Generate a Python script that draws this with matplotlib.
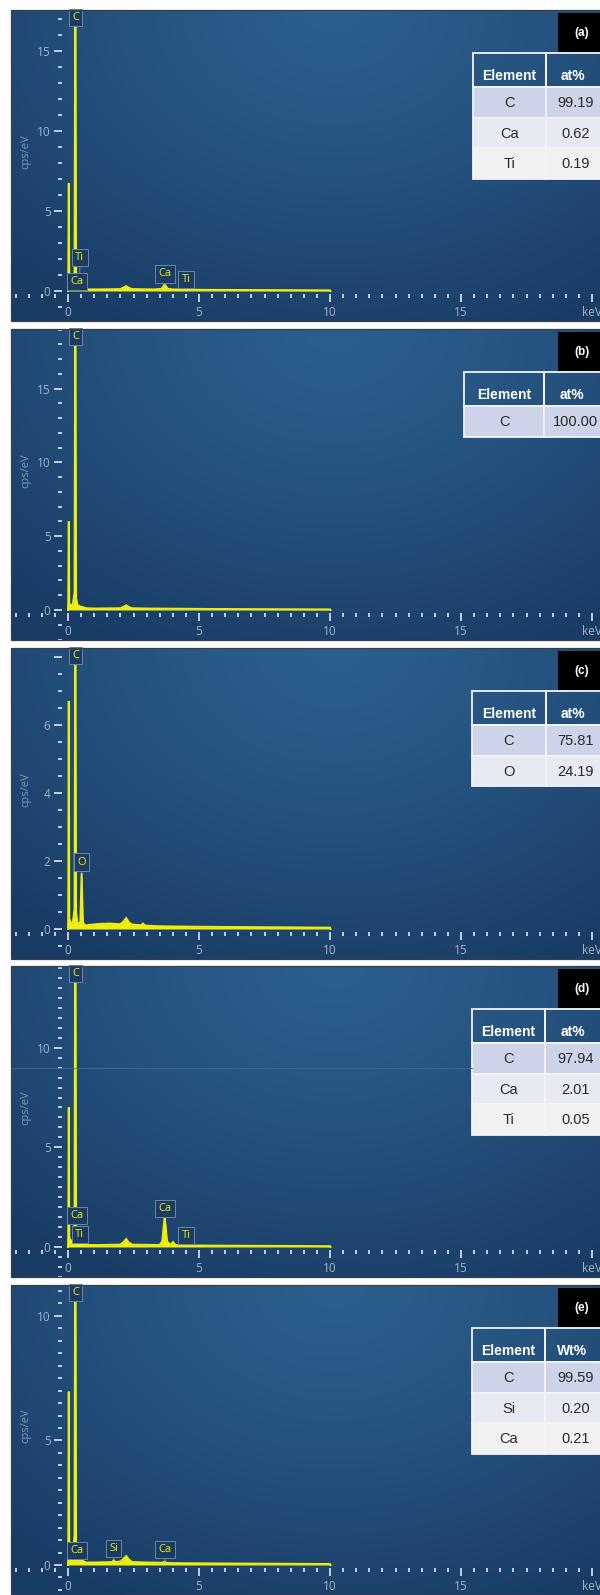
import numpy as np
import matplotlib.pyplot as plt
from matplotlib.patches import Rectangle
from matplotlib.ticker import FixedLocator, FixedFormatter, MultipleLocator

# ------------------------------------------------------------------ #
#  Layout (figure pixels)
# ------------------------------------------------------------------ #

W, H = 600, 1595
PANEL_TOP = [10, 329, 648, 966, 1285]
PANEL_H = 311
PANEL_LEFT = 11
ZERO_PX = 68           # x pixel of 0 keV
PX_PER_KEV = 26.2
ZERO_ABOVE_BOTTOM = 30  # px from the 0 cps line to the panel bottom

# ------------------------------------------------------------------ #
#  Data
# ------------------------------------------------------------------ #

tags = ["(a)", "(b)", "(c)", "(d)", "(e)"]

y_top = [17.56, 19.05, 8.26, 14.1, 11.24]
y_ticks = [[0, 5, 10, 15], [0, 5, 10, 15], [0, 2, 4, 6, 8], [0, 5, 10], [0, 5, 10]]
y_tick_labels = [["0", "5", "10", "15"], ["0", "5", "10", "15"],
                 ["0", "2", "4", "6", ""], ["0", "5", "10"], ["0", "5", "10"]]
y_minor = [1, 1, 0.5, 0.5, 0.5]

x_ticks = [0, 5, 10, 15, 20]
x_tick_labels = ["0", "5", "10", "15", "keV"]

# spectra: energy (keV) and intensity (cps/eV)
energy_a = [0.00, 0.01, 0.03, 0.05, 0.09, 0.15, 0.21, 0.25, 0.28, 0.31, 0.34, 0.38,
            0.45, 0.50, 0.54, 0.60, 0.80, 1.20, 1.60, 2.00, 2.12, 2.22, 2.32, 2.45,
            2.90, 3.30, 3.58, 3.69, 3.80, 4.00, 4.44, 4.51, 4.60, 5.50, 7.00, 8.50,
            10.00, 10.02]
cps_a = [0.0, 0.5, 6.75, 0.45, 0.35, 0.3, 0.35, 1.2, 22.0, 0.8, 0.4, 0.25,
         0.3, 0.2, 0.3, 0.12, 0.1, 0.1, 0.11, 0.12, 0.22, 0.3, 0.2, 0.12,
         0.11, 0.1, 0.14, 0.42, 0.14, 0.1, 0.09, 0.18, 0.08, 0.07, 0.06, 0.05,
         0.04, 0.0]

energy_b = [0.00, 0.01, 0.03, 0.05, 0.10, 0.18, 0.25, 0.28, 0.31, 0.36, 0.45, 0.55,
            0.70, 1.00, 1.50, 2.00, 2.12, 2.22, 2.32, 2.45, 3.00, 4.00, 5.50,
            7.00, 8.50, 10.00, 10.02]
cps_b = [0.0, 0.5, 6.0, 0.45, 0.35, 0.3, 1.2, 24.0, 0.8, 0.35, 0.25, 0.2,
         0.12, 0.1, 0.11, 0.12, 0.22, 0.32, 0.2, 0.12, 0.1, 0.09, 0.07,
         0.06, 0.05, 0.04, 0.0]

energy_c = [0.00, 0.01, 0.03, 0.05, 0.10, 0.18, 0.25, 0.28, 0.31, 0.36, 0.47, 0.52,
            0.57, 0.65, 0.80, 1.20, 1.60, 2.00, 2.12, 2.22, 2.32, 2.45, 2.80,
            2.86, 2.95, 3.50, 4.50, 6.00, 8.00, 10.00, 10.02]
cps_c = [0.0, 0.3, 6.7, 0.3, 0.2, 0.15, 0.6, 10.0, 0.5, 0.15, 0.2, 1.65,
         0.2, 0.1, 0.12, 0.15, 0.16, 0.14, 0.22, 0.32, 0.2, 0.13, 0.11,
         0.16, 0.1, 0.08, 0.07, 0.06, 0.05, 0.04, 0.0]

energy_d = [0.00, 0.01, 0.03, 0.05, 0.10, 0.18, 0.25, 0.28, 0.31, 0.34, 0.38,
            0.45, 0.50, 0.60, 0.80, 1.20, 1.60, 2.00, 2.12, 2.22, 2.32, 2.45,
            3.00, 3.50, 3.60, 3.69, 3.78, 3.90, 4.01, 4.10, 4.44, 4.51, 4.60,
            5.50, 7.00, 8.50, 10.00, 10.02]
cps_d = [0.0, 0.5, 7.0, 0.45, 0.35, 0.3, 1.2, 20.0, 0.8, 0.45, 0.25,
         0.3, 0.15, 0.12, 0.1, 0.1, 0.11, 0.12, 0.25, 0.4, 0.22, 0.12,
         0.11, 0.1, 0.3, 1.55, 0.3, 0.1, 0.25, 0.1, 0.09, 0.14, 0.08,
         0.07, 0.06, 0.05, 0.04, 0.0]

energy_e = [0.00, 0.01, 0.03, 0.05, 0.10, 0.15, 0.18, 0.25, 0.28, 0.31, 0.34, 0.38,
            0.45, 0.53, 0.58, 0.70, 1.00, 1.40, 1.70, 1.74, 1.80, 2.00, 2.12,
            2.22, 2.32, 2.45, 3.00, 3.60, 3.69, 3.78, 4.50, 6.00, 8.00, 10.00,
            10.02]
cps_e = [0.0, 0.5, 6.96, 0.45, 0.3, 0.5, 0.3, 1.2, 16.0, 0.8, 0.5, 0.2,
         0.25, 0.45, 0.15, 0.1, 0.1, 0.11, 0.12, 0.2, 0.12, 0.14, 0.25,
         0.36, 0.22, 0.12, 0.1, 0.09, 0.14, 0.08, 0.07, 0.06, 0.05, 0.04,
         0.0]

spectra = [(energy_a, cps_a), (energy_b, cps_b), (energy_c, cps_c),
           (energy_d, cps_d), (energy_e, cps_e)]

# peak markers: (element, line energy keV, pointer tip cps, box bottom cps)
peaks_a = [("Ti", 0.45, 0.3, 1.75), ("Ca", 0.34, 0.15, 0.25),
           ("Ca", 3.69, 0.42, 0.72), ("Ti", 4.51, 0.18, 0.38)]
peaks_b = []
peaks_c = [("O", 0.525, 1.65, 1.8)]
peaks_d = [("Ca", 0.34, 0.45, 1.3), ("Ti", 0.45, 0.3, 0.35),
           ("Ca", 3.69, 1.55, 1.65), ("Ti", 4.51, 0.14, 0.3)]
peaks_e = [("Ca", 0.34, 0.5, 0.36), ("Si", 1.74, 0.2, 0.44), ("Ca", 3.69, 0.14, 0.4)]
peaks = [peaks_a, peaks_b, peaks_c, peaks_d, peaks_e]
carbon_line = 0.28

# quantification tables
table_header = ["at%", "at%", "at%", "at%", "Wt%"]
table_elements = [["C", "Ca", "Ti"], ["C"], ["C", "O"], ["C", "Ca", "Ti"], ["C", "Si", "Ca"]]
table_values = [["99.19", "0.62", "0.19"], ["100.00"], ["75.81", "24.19"],
                ["97.94", "2.01", "0.05"], ["99.59", "0.20", "0.21"]]
table_left = [473, 464, 472, 472, 472]
table_mid = [546, 544, 546, 545, 545]

ROW_COLORS = ["#cdd3e8", "#e7e9f3", "#f1f1f1"]
YELLOW = "#eeee10"
TICK_COLOR = "#c3cedb"
LABEL_COLOR = "#a3b3c6"
AXIS_FONT = "Open Sans"


def panel_gradient(nx=300, ny=160):
    xx, yy = np.meshgrid(np.linspace(0, 1, nx), np.linspace(0, 1, ny))
    r = np.hypot((xx - 0.55) / 0.8, yy / 1.15)
    t = np.clip(r, 0, 1) ** 1.3
    light = np.array([44, 95, 141]) / 255
    dark = np.array([25, 60, 101]) / 255
    return light * (1 - t[..., None]) + dark * t[..., None]


def draw_panel(fig, i):
    top = PANEL_TOP[i]
    h = min(PANEL_H, H - top)
    ax = fig.add_axes([PANEL_LEFT / W, 1 - (top + h) / H, (W - PANEL_LEFT) / W, h / H])
    x0 = (PANEL_LEFT - ZERO_PX) / PX_PER_KEV
    x1 = (W - ZERO_PX) / PX_PER_KEV
    ytop = y_top[i]
    ppu = (h - ZERO_ABOVE_BOTTOM) / ytop
    ybot = -ZERO_ABOVE_BOTTOM / ppu
    ax.set_xlim(x0, x1)
    ax.set_ylim(ybot, ytop)

    ax.imshow(panel_gradient(), extent=(x0, x1, ybot, ytop), aspect="auto",
              interpolation="bilinear", zorder=0)

    energy, cps = spectra[i]
    ax.fill_between(energy, 0, cps, color=YELLOW, lw=0, zorder=2)
    ax.plot(energy, cps, color=YELLOW, lw=1.4, zorder=3, solid_joinstyle="miter")

    # axes: ticks only, offset from the data like the EDS viewer
    for s in ax.spines.values():
        s.set_color("none")
    ax.spines["left"].set_position(("data", -6 / PX_PER_KEV))
    ax.spines["bottom"].set_position(("data", -3 / ppu))
    ax.yaxis.set_major_locator(FixedLocator(y_ticks[i]))
    ax.yaxis.set_major_formatter(FixedFormatter(y_tick_labels[i]))
    ax.yaxis.set_minor_locator(MultipleLocator(y_minor[i]))
    ax.xaxis.set_major_locator(FixedLocator(x_ticks))
    ax.xaxis.set_major_formatter(FixedFormatter(x_tick_labels))
    ax.xaxis.set_minor_locator(MultipleLocator(0.5))
    ax.tick_params(which="major", direction="out", length=5.8, width=1.4,
                   color=TICK_COLOR, labelcolor=LABEL_COLOR, labelsize=8.5, pad=2.5)
    ax.tick_params(which="minor", direction="out", length=3.0, width=1.4, color=TICK_COLOR)
    for lab in ax.get_xticklabels() + ax.get_yticklabels():
        lab.set_fontfamily(AXIS_FONT)

    ax.text(-1.6, (ytop + ybot) / 2 + 0.05 * ytop, "cps/eV", rotation=90, ha="center",
            va="center", color="#7f98b5", fontsize=8, family=AXIS_FONT)

    box_style = dict(boxstyle="square,pad=0.3", fc="#1b3b60", ec="#6a86a8", lw=0.7)
    ax.text(carbon_line, ytop - 2 / ppu, "C", ha="center", va="top", color=YELLOW,
            fontsize=8, family=AXIS_FONT, bbox=box_style, zorder=6)
    for name, e, tip, box in peaks[i]:
        ax.annotate(name, xy=(e, tip), xytext=(e, box), ha="center", va="bottom",
                    color=YELLOW, fontsize=8, family=AXIS_FONT, bbox=box_style, zorder=6,
                    arrowprops=dict(arrowstyle="-", color="#6a86a8", lw=0.7,
                                    shrinkA=0, shrinkB=0))
    return ax


def draw_overlay(oax, i):
    top = PANEL_TOP[i]
    h = min(PANEL_H, H - top)
    oax.add_patch(Rectangle((PANEL_LEFT, top), W, h, fc="none", ec="#3a3f45", lw=0.9))

    # panel tag
    oax.add_patch(Rectangle((558, top + 3), 50, 39, fc="black", ec="none"))
    oax.text(582, top + 23, tags[i], ha="center", va="center", color="white",
             fontsize=8.5, fontweight="bold", family="Liberation Sans")

    # quantification table
    left, mid, right = table_left[i], table_mid[i], 606
    t0 = top + 43
    hh, rh = 34, 30.5
    edge = dict(ec="#f4f4f4", lw=1.3)
    oax.add_patch(Rectangle((left, t0), mid - left, hh, fc="none", **edge))
    oax.add_patch(Rectangle((mid, t0), right - mid, hh, fc="none", **edge))
    oax.text((left + mid) / 2, t0 + hh - 7, "Element", ha="center", va="baseline",
             color="white", fontsize=10, fontweight="bold", family="Liberation Sans")
    oax.text((mid + right) / 2 - 3, t0 + hh - 7, table_header[i], ha="center",
             va="baseline", color="white", fontsize=10, fontweight="bold",
             family="Liberation Sans")
    for r, (el, val) in enumerate(zip(table_elements[i], table_values[i])):
        y = t0 + hh + r * rh
        for xa, xb, txt in ((left, mid, el), (mid, right, val)):
            oax.add_patch(Rectangle((xa, y), xb - xa, rh, fc=ROW_COLORS[r], **edge))
            oax.text((xa + xb) / 2, y + rh / 2 + 1, txt, ha="center", va="center",
                     color="#2a2a2a", fontsize=10.5, family="Liberation Sans")


fig = plt.figure(figsize=(W / 100, H / 100), dpi=100, facecolor="white")
for i in range(5):
    draw_panel(fig, i)

oax = fig.add_axes([0, 0, 1, 1], zorder=10)
oax.set_xlim(0, W)
oax.set_ylim(H, 0)
oax.axis("off")
# faint scan line across panel (d)
oax.plot([PANEL_LEFT + 1, table_left[3]], [1068, 1068], color="#3d6c9b", lw=0.6)
for i in range(5):
    draw_overlay(oax, i)

fig.savefig("out.png", dpi=100, facecolor="white")
